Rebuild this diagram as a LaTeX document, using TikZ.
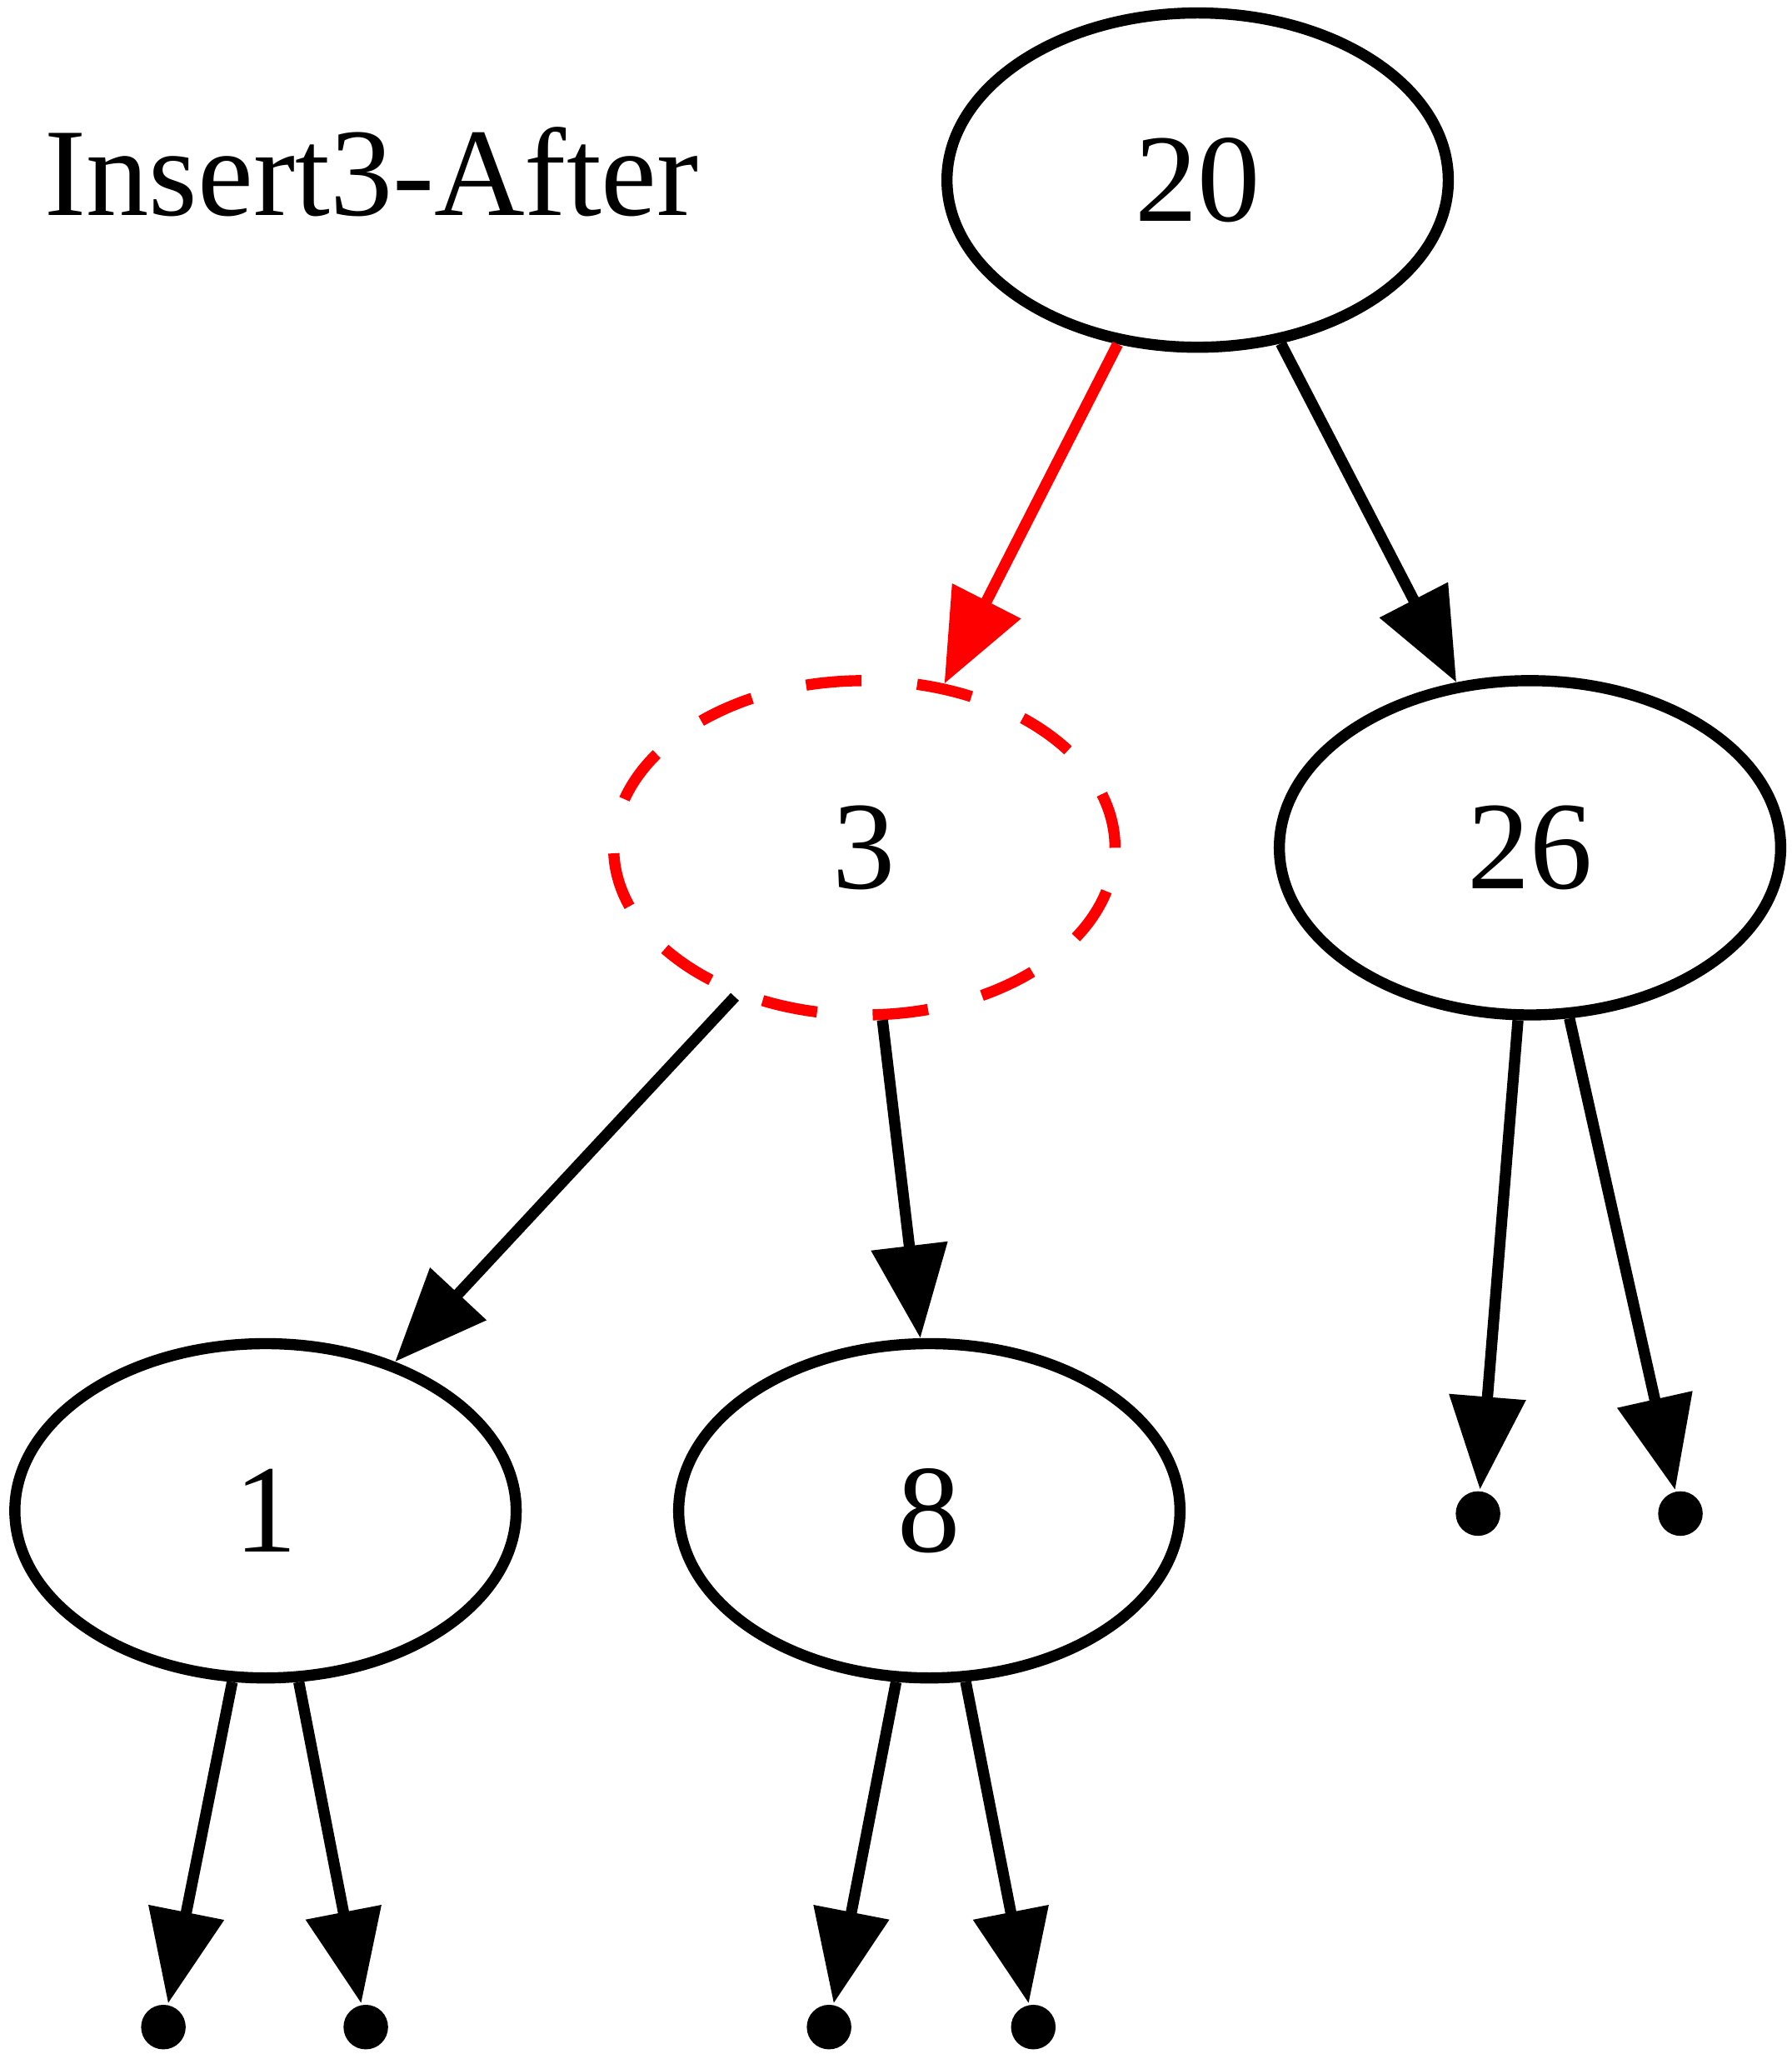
\documentclass[tikz,border=0pt]{standalone}
\usepackage{fontspec}
\setmainfont{Liberation Serif}
\usetikzlibrary{arrows.meta,shapes.geometric}

\begin{document}
\begin{tikzpicture}[
    x=1pt, y=-1pt,
    font={\fontsize{13.5}{16}\selectfont},
    title/.style={anchor=base west,inner sep=0pt},
    treenode/.style={ellipse,draw=black,line width=1.2pt,minimum width=54pt,minimum height=36pt,inner sep=0pt},
    newnode/.style={treenode,draw=red,dash pattern=on 6pt off 6pt},
    leaf/.style={circle,fill=black,minimum size=4.8pt,inner sep=0pt},
    edge/.style={line width=1.2pt,-{Triangle[length=10pt,width=8pt]}},
    newedge/.style={edge,red},
]

    \useasboundingbox (0,0) rectangle (193,221.2);
    \node[title] (caption) at (4.6,23.2) {Insert3-After};

    % Tree
    \node[treenode] (n20) at (129.0,19.4) {20};
    \node[newnode]  (n3)  at (93.1,91.3)  {3};
    \node[treenode] (n26) at (164.8,91.3) {26};
    \node[treenode] (n1)  at (28.6,162.7) {1};
    \node[treenode] (n8)  at (100.1,162.7) {8};

    % Nil leaves
    \node[leaf] (l26a) at (159.2,163.0) {};
    \node[leaf] (l26b) at (181.0,163.0) {};
    \node[leaf] (l1a)  at (17.6,218.3) {};
    \node[leaf] (l1b)  at (39.4,218.3) {};
    \node[leaf] (l8a)  at (89.3,218.3) {};
    \node[leaf] (l8b)  at (111.3,218.3) {};

    % Edges
    \draw[newedge](n20.244) -- (n3.64);
    \draw[edge](n20.297) -- (n26.114);
    \draw[edge](n3.229) -- (n1.49);
    \draw[edge](n3.276) -- (n8.93);
    \draw[edge](n26.266) -- (l26a);
    \draw[edge](n26.283) -- (l26b);
    \draw[edge](n1.259) -- (l1a);
    \draw[edge](n1.281) -- (l1b);
    \draw[edge](n8.259) -- (l8a);
    \draw[edge](n8.282) -- (l8b);

\end{tikzpicture}
\end{document}
